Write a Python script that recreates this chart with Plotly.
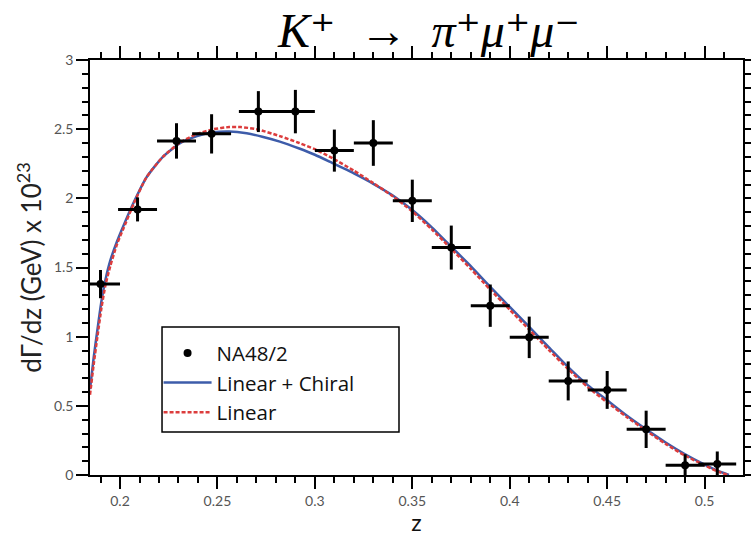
import plotly.graph_objects as go

# ---- data ----
data_z = [0.19, 0.209, 0.229, 0.247, 0.271, 0.29, 0.31, 0.33, 0.35, 0.37,
          0.39, 0.41, 0.43, 0.45, 0.47, 0.49, 0.5065]
data_v = [1.38, 1.92, 2.415, 2.466, 2.627, 2.627, 2.345, 2.40, 1.982, 1.644,
          1.224, 0.995, 0.68, 0.615, 0.33, 0.07, 0.08]
data_zerr = [0.01] * 16 + [0.0097]
data_verr = [0.102, 0.087, 0.128, 0.142, 0.148, 0.157, 0.152, 0.165, 0.153, 0.159,
             0.153, 0.15, 0.141, 0.137, 0.135, 0.08, 0.09]

blue_z = [0.1846, 0.1865, 0.1885, 0.1905, 0.1925, 0.195, 0.1985, 0.202, 0.207, 0.2135,
          0.222, 0.231, 0.2395, 0.248, 0.256, 0.265, 0.273, 0.282, 0.292, 0.300,
          0.309, 0.320, 0.330, 0.340, 0.350, 0.360, 0.370, 0.380, 0.390, 0.400,
          0.410, 0.420, 0.430, 0.440, 0.450, 0.460, 0.470, 0.480, 0.490, 0.500,
          0.506, 0.5125]
blue_v = [0.62, 0.85, 1.06, 1.26, 1.41, 1.55, 1.69, 1.81, 1.97, 2.15,
          2.30, 2.40, 2.45, 2.477, 2.483, 2.47, 2.445, 2.41, 2.36, 2.315,
          2.255, 2.18, 2.105, 2.02, 1.915, 1.79, 1.65, 1.51, 1.36, 1.215,
          1.07, 0.925, 0.78, 0.65, 0.54, 0.43, 0.33, 0.235, 0.15, 0.075,
          0.035, 0.0]

red_z = [0.1846, 0.1865, 0.1885, 0.1905, 0.1925, 0.195, 0.1985, 0.202, 0.207, 0.2135,
         0.222, 0.231, 0.2395, 0.248, 0.256, 0.262, 0.270, 0.282, 0.292, 0.300,
         0.309, 0.320, 0.330, 0.340, 0.350, 0.360, 0.370, 0.380, 0.390, 0.400,
         0.410, 0.420, 0.430, 0.440, 0.450, 0.460, 0.470, 0.480, 0.490, 0.500,
         0.506, 0.512]
red_v = [0.58, 0.80, 1.01, 1.21, 1.37, 1.51, 1.67, 1.79, 1.96, 2.15,
         2.30, 2.405, 2.465, 2.50, 2.515, 2.515, 2.50, 2.45, 2.40, 2.355,
         2.29, 2.20, 2.11, 2.015, 1.905, 1.775, 1.635, 1.49, 1.34, 1.195,
         1.05, 0.905, 0.765, 0.635, 0.525, 0.42, 0.32, 0.225, 0.14, 0.07,
         0.03, 0.0]

x_ticks = [0.2, 0.25, 0.3, 0.35, 0.4, 0.45, 0.5]
x_ticklabels = ["0.2", "0.25", "0.3", "0.35", "0.4", "0.45", "0.5"]
y_ticks = [0, 0.5, 1, 1.5, 2, 2.5, 3]
y_ticklabels = ["0", "0.5", "1", "1.5", "2", "2.5", "3"]

fig = go.Figure()

fig.add_trace(go.Scatter(
    x=blue_z, y=blue_v, mode="lines", name="Linear + Chiral", legendrank=2,
    line=dict(color="#3d5caa", width=2.5, shape="spline", smoothing=0.6),
))
fig.add_trace(go.Scatter(
    x=red_z, y=red_v, mode="lines", name="Linear", legendrank=3,
    line=dict(color="#dc3c3c", width=2.5, dash="4px,2px", shape="spline", smoothing=0.6),
))
fig.add_trace(go.Scatter(
    x=data_z, y=data_v, mode="markers", name="NA48/2", legendrank=1,
    marker=dict(color="black", size=8),
    error_x=dict(type="data", array=data_zerr, color="black", thickness=3, width=0),
    error_y=dict(type="data", array=data_verr, color="black", thickness=3, width=0),
))

axis_common = dict(
    showline=True, linecolor="black", linewidth=1.5, mirror="ticks",
    ticks="outside", ticklen=12, tickwidth=1.5, tickcolor="black",
    showgrid=False, zeroline=False, automargin=False,
    tickfont=dict(family="Lato", size=14, color="#555555"),
)

fig.update_xaxes(
    range=[0.1846, 0.5197], tickvals=x_ticks, ticktext=x_ticklabels,
    minor=dict(dtick=0.01, tick0=0.0, ticks="outside", ticklen=6, tickwidth=1.5, tickcolor="black"),
    title=dict(text="z", font=dict(family="Lato", size=23, color="#111111"), standoff=6),
    **axis_common,
)
fig.update_yaxes(
    range=[0, 3], tickvals=y_ticks, ticktext=y_ticklabels,
    minor=dict(dtick=0.1, tick0=0.0, ticks="outside", ticklen=6, tickwidth=1.5, tickcolor="black"),
    title=dict(text="dΓ/dz (GeV) x 10<sup>23</sup>",
               font=dict(family="Lato", size=26, color="#222222"), standoff=5),
    **axis_common,
)

fig.add_shape(type="rect", xref="paper", yref="paper",
              x0=0.1103, x1=0.4732, y0=0.1036, y1=0.3566,
              line=dict(color="black", width=1.5), fillcolor="rgba(0,0,0,0)")

fig.update_layout(
    width=751, height=536,
    margin=dict(l=90, r=8, t=60, b=61),
    paper_bgcolor="white", plot_bgcolor="white",
    showlegend=True,
    legend=dict(
        x=0.105, y=0.342, xanchor="left", yanchor="top",
        bgcolor="rgba(0,0,0,0)", borderwidth=0, itemwidth=48,
        font=dict(family="Open Sans", size=20.5, color="#111111"),
        traceorder="normal",
    ),
    title=dict(
        text="<i>K</i>⁺\u2002→\u2002<i>π</i>⁺<i>μ</i>⁺<i>μ</i>⁻",
        font=dict(family="Liberation Serif, DejaVu Serif", size=48, color="black"),
        x=0.519, xanchor="center", xref="paper",
        y=1 - 47 / 536, yanchor="bottom", yref="container",
    ),
)

fig.write_html("out.html")
